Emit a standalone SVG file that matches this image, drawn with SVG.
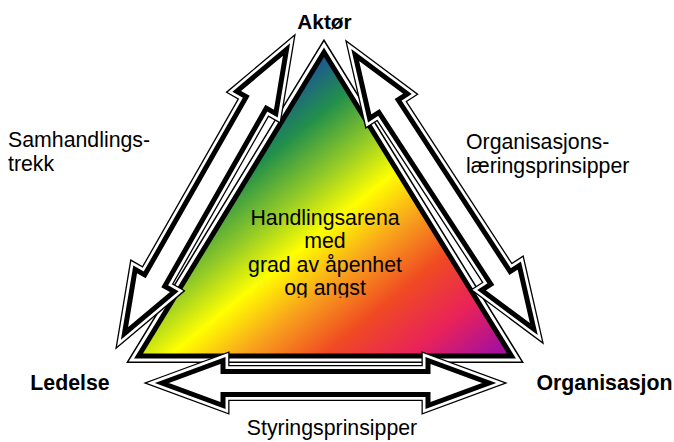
<svg xmlns="http://www.w3.org/2000/svg" width="674" height="442" viewBox="0 0 674 442">
  <defs>
    <linearGradient id="arenaGrad" x1="0" y1="0" x2="1" y2="1">
      <stop offset="0.22" stop-color="#1a48a8"/>
      <stop offset="0.34" stop-color="#22904a"/>
      <stop offset="0.45" stop-color="#96cc26"/>
      <stop offset="0.54" stop-color="#ffff00"/>
      <stop offset="0.64" stop-color="#f8a21c"/>
      <stop offset="0.75" stop-color="#f04a22"/>
      <stop offset="0.87" stop-color="#e8225a"/>
      <stop offset="0.98" stop-color="#a8109c"/>
    </linearGradient>
    <path id="arr" d="M-163.5,0 L-102.5,-22.5 L-102.5,-11.5 L102.5,-11.5 L102.5,-22.5 L163.5,0 L102.5,22.5 L102.5,11.5 L-102.5,11.5 L-102.5,22.5 Z"/>
    <polygon id="tri" points="324,57 143,353.5 507,353.5"/>
    <clipPath id="textClip">
      <rect x="200" y="190" width="250" height="107.5"/>
    </clipPath>
  </defs>
  <style>
    .o1 { fill: none; stroke: #000; stroke-width: 13; stroke-linejoin: miter; stroke-miterlimit: 10; }
    .o2 { fill: none; stroke: #fff; stroke-width: 10.4; stroke-linejoin: miter; stroke-miterlimit: 10; }
    .o3 { fill: #fff; stroke: #000; stroke-width: 5; stroke-linejoin: miter; stroke-miterlimit: 10; }
    .t1 { fill: none; stroke: #000; stroke-width: 19; stroke-linejoin: miter; stroke-miterlimit: 10; }
    .t2 { fill: none; stroke: #fff; stroke-width: 16; stroke-linejoin: miter; stroke-miterlimit: 10; }
    .t3 { fill: none; stroke: #000; stroke-width: 10; stroke-linejoin: miter; stroke-miterlimit: 10; }
    .t4 { fill: url(#arenaGrad); stroke: none; }
    .lbl { font-family: "Liberation Sans", Arial, sans-serif; font-size: 21.3px; fill: #000; }
    .bold { font-weight: bold; }
  </style>

  <g id="node-arena">
    <use href="#tri" class="t1"/>
    <use href="#tri" class="t2"/>
    <use href="#tri" class="t3"/>
    <use href="#tri" class="t4"/>
    <g clip-path="url(#textClip)" class="lbl" text-anchor="middle">
      <text x="325" y="224.5">Handlingsarena</text>
      <text x="325" y="248">med</text>
      <text x="325" y="271.5">grad av åpenhet</text>
      <text x="325" y="295">og angst</text>
    </g>
  </g>

  <g id="connectors">
    <g id="arrow-samhandling" transform="translate(205.5,191.5) rotate(-60.3)">
      <use href="#arr" class="o1"/>
      <use href="#arr" class="o2"/>
      <use href="#arr" class="o3"/>
    </g>
    <g id="arrow-organisasjonslaering" transform="translate(444.5,192) rotate(56.9)">
      <use href="#arr" class="o1"/>
      <use href="#arr" class="o2"/>
      <use href="#arr" class="o3"/>
    </g>
    <g id="arrow-styring" transform="translate(325.5,383)">
      <use href="#arr" class="o1"/>
      <use href="#arr" class="o2"/>
      <use href="#arr" class="o3"/>
    </g>
    <g class="lbl">
      <text x="8" y="147">Samhandlings-</text>
      <text x="8" y="171">trekk</text>
      <text x="466" y="149">Organisasjons-</text>
      <text x="466" y="173">læringsprinsipper</text>
      <text x="332" y="435" text-anchor="middle">Styringsprinsipper</text>
    </g>
  </g>

  <g id="node-aktor">
    <text class="lbl bold" x="324.5" y="29" text-anchor="middle" style="font-size:20.8px">Aktør</text>
  </g>
  <g id="node-ledelse">
    <text class="lbl bold" x="70" y="390" text-anchor="middle">Ledelse</text>
  </g>
  <g id="node-organisasjon">
    <text class="lbl bold" x="604.5" y="390" text-anchor="middle">Organisasjon</text>
  </g>
</svg>
